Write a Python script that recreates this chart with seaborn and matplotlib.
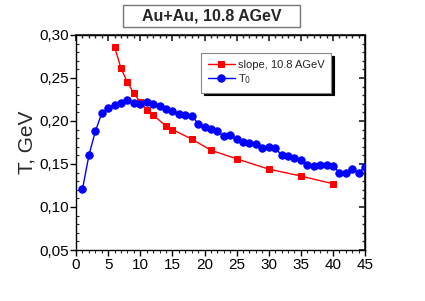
import matplotlib
matplotlib.use("Agg")
import matplotlib.pyplot as plt
import seaborn as sns
import pandas as pd
from matplotlib.ticker import MultipleLocator, FuncFormatter
from matplotlib.patches import Rectangle

slope_x = [6, 7, 8, 9, 10, 11, 12, 14, 15, 18, 21, 25, 30, 35, 40]
slope_y = [0.286, 0.261, 0.245, 0.232, 0.222, 0.213, 0.207, 0.194, 0.190, 0.179,
           0.166, 0.156, 0.144, 0.136, 0.127]

t0_x = list(range(1, 46))
t0_y = [0.121, 0.160, 0.188, 0.209, 0.215, 0.219, 0.221, 0.224, 0.221, 0.220,
        0.222, 0.220, 0.217, 0.214, 0.211, 0.208, 0.207, 0.206, 0.197, 0.193,
        0.191, 0.188, 0.182, 0.184, 0.179, 0.176, 0.174, 0.173, 0.168, 0.170,
        0.169, 0.160, 0.159, 0.157, 0.155, 0.149, 0.148, 0.149, 0.149, 0.148,
        0.140, 0.140, 0.144, 0.140, 0.147]

title = "Au+Au, 10.8 AGeV"
ylabel = "T, GeV"
label_slope = "slope, 10.8 AGeV"
label_t0 = r"T$_0$"

sns.set_theme(style="ticks")
plt.rcParams['font.family'] = ['Liberation Sans', 'DejaVu Sans']

fig = plt.figure(figsize=(4.25, 3.01), dpi=100)
ax = fig.add_axes([0.179, 0.1694, 0.68, 0.7146])

df_s = pd.DataFrame({"x": slope_x, "y": slope_y})
df_t = pd.DataFrame({"x": t0_x, "y": t0_y})

sns.lineplot(data=df_s, x="x", y="y", ax=ax, color="#ff0000", marker="s",
             markersize=4.2, markeredgecolor="#ff0000", linewidth=1.0,
             label=label_slope, zorder=3)
sns.lineplot(data=df_t, x="x", y="y", ax=ax, color="#0000ff", marker="o",
             markersize=5.3, markeredgecolor="#0000ff", linewidth=1.0,
             label=label_t0, zorder=3)

ax.set_xlim(0, 45)
ax.set_ylim(0.05, 0.30)
ax.xaxis.set_major_locator(MultipleLocator(5))
ax.xaxis.set_minor_locator(MultipleLocator(1))
ax.yaxis.set_major_locator(MultipleLocator(0.05))
ax.yaxis.set_minor_locator(MultipleLocator(0.01))
ax.yaxis.set_major_formatter(FuncFormatter(lambda v, p: f"{v:.2f}".replace(".", ",")))

for s in ax.spines.values():
    s.set_color("black")
    s.set_linewidth(1.0)

ax.tick_params(axis="x", which="major", direction="out", length=4, width=1,
               labelsize=11, colors="black", pad=2)
ax.tick_params(axis="x", which="minor", direction="out", length=2, width=0.8)
ax.tick_params(axis="y", which="major", direction="out", length=4, width=1,
               labelsize=11, colors="black", pad=1)
ax.tick_params(axis="y", which="minor", direction="in", length=2, width=0.8)

secx = ax.secondary_xaxis("top")
secx.xaxis.set_major_locator(MultipleLocator(5))
secx.xaxis.set_minor_locator(MultipleLocator(1))
secx.tick_params(which="major", direction="in", length=4, labeltop=False)
secx.tick_params(which="minor", direction="in", length=2)
secy = ax.secondary_yaxis("right")
secy.yaxis.set_major_locator(MultipleLocator(0.05))
secy.yaxis.set_minor_locator(MultipleLocator(0.01))
secy.tick_params(which="major", direction="in", length=4, labelright=False)
secy.tick_params(which="minor", direction="in", length=2)

ax.set_xlabel("")
ax.set_ylabel(ylabel, fontsize=15, labelpad=2)

leg = ax.legend(loc="upper left", bbox_to_anchor=(0.433, 0.915), fontsize=8,
                frameon=True, fancybox=False, shadow={"color": "black", "alpha": 1},
                borderpad=0.6, handlelength=2.4, labelspacing=0.2,
                edgecolor="#888888", handletextpad=0.3, borderaxespad=0)
leg.get_frame().set_linewidth(0.8)

fig.patches.append(Rectangle((0.289, 0.910), 0.4165, 0.073, transform=fig.transFigure,
                             facecolor="white", edgecolor="#777777", linewidth=1.0))
fig.text(0.4975, 0.947, title, ha="center", va="center", fontsize=11.5,
         fontweight="bold")

fig.savefig("out.png", dpi=100)
